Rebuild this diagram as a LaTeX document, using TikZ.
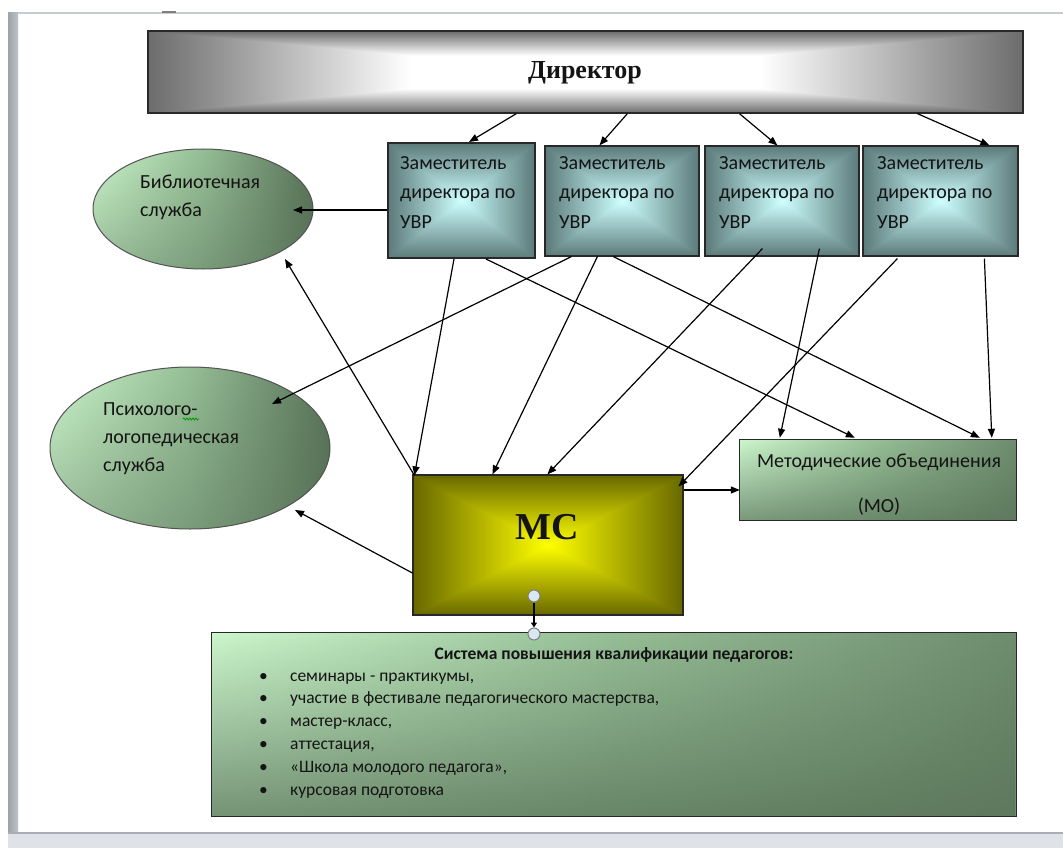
\documentclass[tikz,border=0pt]{standalone}
\usepackage{fontspec}
\setmainfont{Carlito}
\newfontfamily\headfont{Liberation Serif}
\usetikzlibrary{arrows.meta,calc,decorations.pathmorphing,shapes.geometric,fadings}
\definecolor{dirOut}{RGB}{108,108,108}
\definecolor{dirIn}{RGB}{255,255,255}
\definecolor{depOut}{RGB}{92,122,122}
\definecolor{depIn}{RGB}{206,255,255}
\definecolor{mcOut}{RGB}{104,104,0}
\definecolor{mcIn}{RGB}{255,255,0}
\definecolor{grL}{RGB}{204,246,204}
\definecolor{grM}{RGB}{150,190,150}
\definecolor{grR}{RGB}{110,140,110}
\definecolor{grD}{RGB}{88,114,88}
\definecolor{edge}{RGB}{40,40,40}
\definecolor{barA}{RGB}{158,163,170}
\definecolor{barB}{RGB}{190,195,201}
\definecolor{topline}{RGB}{200,204,209}
\definecolor{bandc}{RGB}{223,226,230}
\definecolor{bandline}{RGB}{170,174,180}
\definecolor{handle}{RGB}{216,231,240}
\definecolor{txt}{RGB}{20,20,20}
\tikzfading[name=fadedown, top color=transparent!100, bottom color=transparent!0]
% rectangular (from centre) gradient: x1 y1 x2 y2 outer inner reach
\newcommand\rshade[7]{%
  \pgfmathsetmacro\rsxc{(#1+#3)/2}%
  \pgfmathsetmacro\rsyc{(#2+#4)/2}%
  \pgfmathsetmacro\rsta{#2+#7*(\rsyc-#2)}%
  \pgfmathsetmacro\rstb{#4-#7*(#4-\rsyc)}%
  \pgfmathsetmacro\rsla{#1+#7*(\rsxc-#1)}%
  \pgfmathsetmacro\rslb{#3-#7*(#3-\rsxc)}%
  \fill[#6] (#1,#2) rectangle (#3,#4);
  \shade[left color=#5,right color=#6] (#1,#2) rectangle (\rsla,#4);
  \shade[left color=#6,right color=#5] (\rslb,#2) rectangle (#3,#4);
  \begin{scope}\clip (#1,#2)--(#3,#2)--(\rsxc,\rsyc)--cycle;
    \shade[top color=#5,bottom color=#6] (#1,#2) rectangle (#3,\rsta);
    \fill[#6] (#1,\rsta) rectangle (#3,\rsyc);\end{scope}
  \begin{scope}\clip (#1,#4)--(#3,#4)--(\rsxc,\rsyc)--cycle;
    \shade[top color=#6,bottom color=#5] (#1,\rstb) rectangle (#3,#4);
    \fill[#6] (#1,\rsyc) rectangle (#3,\rstb);\end{scope}
}
\begin{document}
\begin{tikzpicture}[x=1pt,y=-1pt,
  framebox/.style={draw=edge,line width=1.2pt,inner sep=0pt},
  deptext/.style={anchor=base west,align=left,inner sep=0pt,text=txt,font=\fontsize{20}{29.5}\selectfont},
  elltext/.style={anchor=base west,align=left,inner sep=0pt,text=txt,font=\fontsize{20}{28}\selectfont},
  greenell/.style={ellipse,inner sep=0pt,left color=grL,right color=grD,middle color=grM},
  greenbox/.style={inner sep=0pt,left color=grL,right color=grR,middle color=grM},
  darken/.style={fill=grD,path fading=fadedown,fill opacity=#1},
  arr/.style={draw=black,line width=1.2pt,-{Triangle[length=9pt,width=7pt]}},
  hnd/.style={circle,draw=gray,line width=1pt,fill=handle,minimum size=12pt,inner sep=0pt}]
\useasboundingbox (0,0) rectangle (1063,848);
\fill[white] (0,0) rectangle (1063,848);
% window frame
\shade[left color=barA,right color=barB] (8,13) rectangle (18,832);
\draw[topline,line width=2pt] (18,13) -- (1063,13);
\draw[gray,line width=2.5pt] (162,12) -- (176,12);
\fill[bandc] (8,833) rectangle (1063,848);
\draw[bandline,line width=2pt] (8,832.5) -- (1063,832.5);

% Director
\rshade{148}{31}{1023}{113}{dirOut}{dirIn}{0.6}
\node[framebox,minimum width=875pt,minimum height=82pt] (dir) at (585.5,72) {};
\node[text=txt,font=\headfont\bfseries\fontsize{26}{30}\selectfont] (dirt) at (585,73) {Директор};

% deputies
\rshade{388}{143}{535}{258}{depOut}{depIn}{1}
\node[framebox,line width=2pt,minimum width=147pt,minimum height=115pt] (b1) at (461.5,200.5) {};
\rshade{545}{146}{699}{256}{depOut}{depIn}{1}
\node[framebox,minimum width=154pt,minimum height=110pt] (b2) at (622,201) {};
\rshade{705}{146}{859}{256}{depOut}{depIn}{1}
\node[framebox,minimum width=154pt,minimum height=110pt] (b3) at (782,201) {};
\rshade{863}{146}{1018}{256}{depOut}{depIn}{1}
\node[framebox,minimum width=155pt,minimum height=110pt] (b4) at (940.5,201) {};
\node[deptext] (b1t) at (400,228) {Заместитель\\директора по\\УВР};
\node[deptext] (b2t) at (559,228) {Заместитель\\директора по\\УВР};
\node[deptext] (b3t) at (719,228) {Заместитель\\директора по\\УВР};
\node[deptext] (b4t) at (877,228) {Заместитель\\директора по\\УВР};

% ellipses
\node[greenell,minimum width=220pt,minimum height=120pt] (lib) at (203,209) {};
\fill[darken=0.45] (lib.center) ellipse [x radius=110, y radius=60];
\draw[edge!80,line width=1pt] (lib.center) ellipse [x radius=110, y radius=60];
\node[elltext] (libt) at (140,216) {Библиотечная\\служба};
\node[greenell,minimum width=280pt,minimum height=162pt] (psy) at (190,448) {};
\fill[darken=0.45] (psy.center) ellipse [x radius=140, y radius=81];
\draw[edge!80,line width=1pt] (psy.center) ellipse [x radius=140, y radius=81];
\node[elltext] (psyt) at (103,471) {Психолого-\\логопедическая\\служба};
\draw[green!60!black,line width=0.8pt,decorate,decoration={snake,amplitude=1pt,segment length=3pt}] (183,419) -- (199,419);

% MC
\rshade{413}{475}{683}{615}{mcOut}{mcIn}{1}
\node[framebox,minimum width=270pt,minimum height=140pt] (mc) at (548,545) {};
\node[text=txt,font=\headfont\bfseries\fontsize{38}{40}\selectfont] (mct) at (547,527) {МС};

% MO
\node[greenbox,minimum width=276pt,minimum height=80pt] (mo) at (878,480) {};
\fill[darken=0.7] (mo.north west) rectangle (mo.south east);
\draw[edge,line width=1.3pt] (mo.north west) rectangle (mo.south east);
\node[anchor=base,align=center,inner sep=0pt,text=txt,font=\fontsize{20}{45}\selectfont] (mot) at (879,512) {Методические объединения\\(МО)};

% qualification system
\node[greenbox,minimum width=804pt,minimum height=183pt] (sys) at (614,724.5) {};
\fill[darken=0.75] (sys.north west) rectangle (sys.south east);
\draw[edge,line width=1.3pt] (sys.north west) rectangle (sys.south east);
\node[anchor=base,inner sep=0pt,text=txt,font=\bfseries\fontsize{17.5}{22}\selectfont] (syst) at (614,659) {Система повышения квалификации педагогов:};
\node[anchor=base west,align=left,inner sep=0pt,text=txt,font=\fontsize{17.5}{22.8}\selectfont] (sysl) at (259,795)
 {\makebox[31pt][l]{•}семинары - практикумы,\\
  \makebox[31pt][l]{•}участие в фестивале педагогического мастерства,\\
  \makebox[31pt][l]{•}мастер-класс,\\
  \makebox[31pt][l]{•}аттестация,\\
  \makebox[31pt][l]{•}«Школа молодого педагога»,\\
  \makebox[31pt][l]{•}курсовая подготовка};

% connectors
\draw[arr] ($(dir.south west)+(369,0)$) -- ($(b1.north west)+(82,0)$);
\draw[arr] ($(dir.south west)+(480,0)$) -- ($(b2.north west)+(55,0)$);
\draw[arr] ($(dir.south west)+(592,0)$) -- ($(b3.north west)+(73,0)$);
\draw[arr] ($(dir.south west)+(770,0)$) -- ($(b4.north west)+(127,0)$);
\draw[arr] ($(b1.west)+(0,9.5)$) -- ($(lib.center)+(90,1)$);
\draw[arr] ($(b1.south west)+(67,0)$) -- ($(mc.north west)+(2,1)$);
\draw[arr] ($(b1.south west)+(99,0)$) -- ($(mo.north west)+(115,-2)$);
\draw[arr] ($(b2.south west)+(27,0)$) -- ($(psy.center)+(82,-44)$);
\draw[arr] ($(b2.south west)+(53,0)$) -- ($(mc.north west)+(80,0)$);
\draw[arr] ($(b2.south west)+(69,0)$) -- ($(mo.north west)+(240,-2)$);
\draw[arr] ($(b3.south west)+(58,-8)$) -- ($(mc.north west)+(135,0)$);
\draw[arr] ($(b3.south west)+(115,-8)$) -- ($(mo.north west)+(40,-2)$);
\draw[arr] ($(b4.south west)+(35,2)$) -- ($(mc.north east)+(-5,12)$);
\draw[arr] ($(b4.south west)+(122,2)$) -- ($(mo.north west)+(252,-2)$);
\draw[arr] ($(mc.north west)+(2,1)$) -- ($(lib.center)+(82,50)$);
\draw[arr] ($(mc.west)+(0,28)$) -- ($(psy.center)+(105,62)$);
\draw[arr] ($(mc.east)+(0,-55)$) -- ($(mo.west)+(0,10)$);
\node[hnd] (h1) at (534,596) {};
\node[hnd] (h2) at (534,634) {};
\draw[draw=black,line width=1.2pt,-{Triangle[length=5pt,width=6pt]}] (h1) -- (h2);
\end{tikzpicture}
\end{document}
